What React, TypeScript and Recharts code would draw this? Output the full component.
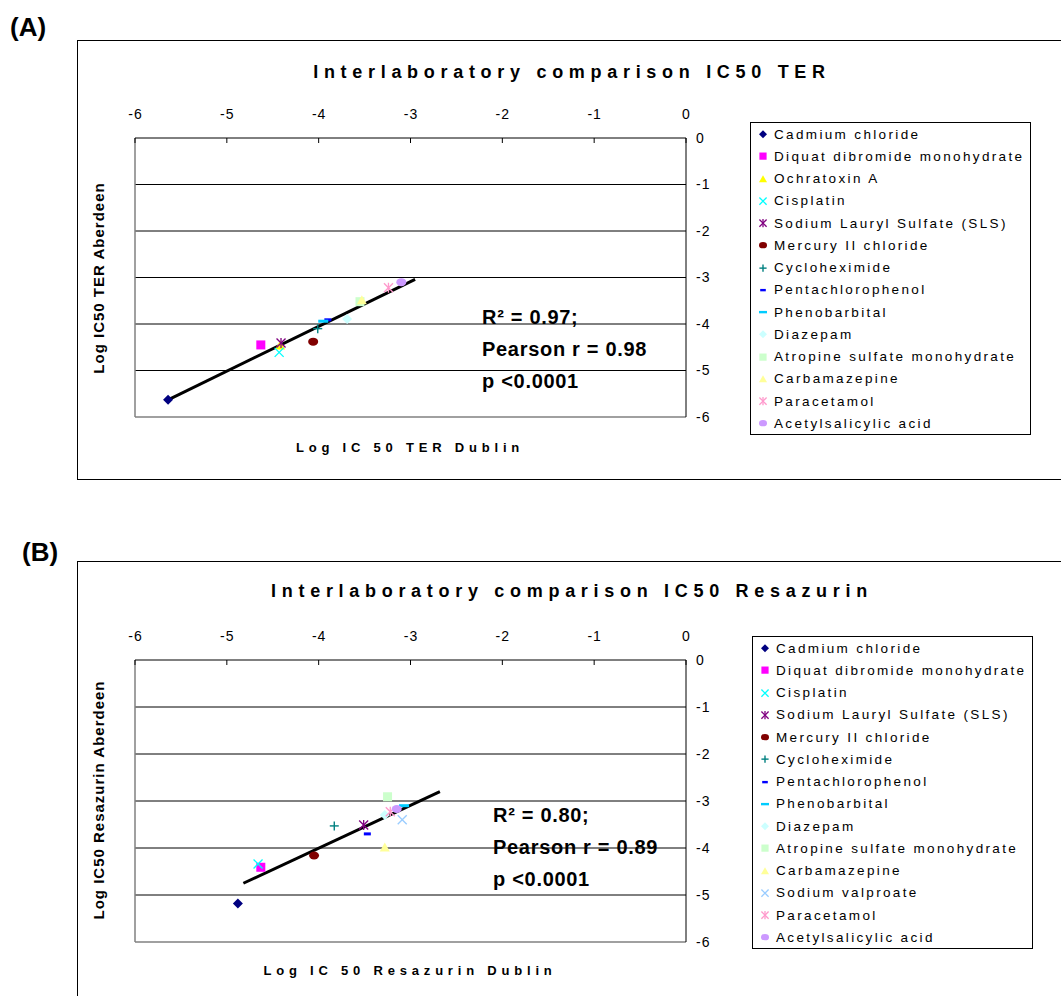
import React from 'react';
import { ScatterChart, Scatter, XAxis, YAxis, CartesianGrid, ReferenceLine } from 'recharts';

const FONT = '"Liberation Sans", Arial, Helvetica, sans-serif';

const axisTicks = [-6, -5, -4, -3, -2, -1, 0];

// Panel A — TER
const compoundsA = [
  'Cadmium chloride',
  'Diquat dibromide monohydrate',
  'Ochratoxin A',
  'Cisplatin',
  'Sodium Lauryl Sulfate (SLS)',
  'Mercury II chloride',
  'Cycloheximide',
  'Pentachlorophenol',
  'Phenobarbital',
  'Diazepam',
  'Atropine sulfate monohydrate',
  'Carbamazepine',
  'Paracetamol',
  'Acetylsalicylic acid',
];
const dublinA = [-5.64, -4.63, -4.42, -4.43, -4.41, -4.06, -4.01, -3.90, -3.95, -3.69, -3.55, -3.53, -3.24, -3.10];
const aberdeenA = [-5.63, -4.45, -4.46, -4.61, -4.41, -4.38, -4.10, -3.91, -3.94, -3.89, -3.52, -3.49, -3.22, -3.10];
const trendA = [{ x: -5.64, y: -5.63 }, { x: -2.95, y: -3.04 }];
const statsA = ['R² = 0.97;', 'Pearson r = 0.98', 'p <0.0001'];

// Panel B — Resazurin
const compoundsB = [
  'Cadmium chloride',
  'Diquat dibromide monohydrate',
  'Cisplatin',
  'Sodium Lauryl Sulfate (SLS)',
  'Mercury II chloride',
  'Cycloheximide',
  'Pentachlorophenol',
  'Phenobarbital',
  'Diazepam',
  'Atropine sulfate monohydrate',
  'Carbamazepine',
  'Sodium valproate',
  'Paracetamol',
  'Acetylsalicylic acid',
];
const dublinB = [-4.88, -4.63, -4.66, -3.51, -4.05, -3.83, -3.47, -3.07, -3.28, -3.25, -3.28, -3.09, -3.22, -3.15];
const aberdeenB = [-5.18, -4.41, -4.34, -3.51, -4.16, -3.53, -3.70, -3.10, -3.30, -2.91, -3.99, -3.40, -3.23, -3.17];
const trendB = [{ x: -4.82, y: -4.75 }, { x: -2.68, y: -2.80 }];
const statsB = ['R² = 0.80;', 'Pearson r = 0.89', 'p <0.0001'];

const MARK: Record<string, { shape: string; color: string }> = {
  'Cadmium chloride': { shape: 'diamond', color: '#000080' },
  'Diquat dibromide monohydrate': { shape: 'square', color: '#FF00FF' },
  'Ochratoxin A': { shape: 'triangle', color: '#FFFF00' },
  'Cisplatin': { shape: 'x', color: '#00FFFF' },
  'Sodium Lauryl Sulfate (SLS)': { shape: 'star', color: '#800080' },
  'Mercury II chloride': { shape: 'circle', color: '#800000' },
  'Cycloheximide': { shape: 'plus', color: '#008080' },
  'Pentachlorophenol': { shape: 'dash', color: '#0000FF' },
  'Phenobarbital': { shape: 'longdash', color: '#00CCFF' },
  'Diazepam': { shape: 'diamond', color: '#CCFFFF' },
  'Atropine sulfate monohydrate': { shape: 'square', color: '#CCFFCC' },
  'Carbamazepine': { shape: 'triangle', color: '#FFFF99' },
  'Sodium valproate': { shape: 'x', color: '#99CCFF' },
  'Paracetamol': { shape: 'star', color: '#FF99CC' },
  'Acetylsalicylic acid': { shape: 'circle', color: '#CC99FF' },
};

function Marker({ shape, color, cx, cy, s = 1 }: { shape: string; color: string; cx: number; cy: number; s?: number }) {
  switch (shape) {
    case 'diamond': {
      const r = 5 * s;
      return <polygon points={`${cx},${cy - r} ${cx + r},${cy} ${cx},${cy + r} ${cx - r},${cy}`} fill={color} />;
    }
    case 'square': {
      const h = 4.5 * s;
      return <rect x={cx - h} y={cy - h} width={2 * h} height={2 * h} fill={color} />;
    }
    case 'triangle': {
      const t = 5 * s;
      return <polygon points={`${cx},${cy - t} ${cx + t},${cy + t * 0.8} ${cx - t},${cy + t * 0.8}`} fill={color} />;
    }
    case 'x': {
      const r = 4.5 * s;
      return (
        <g stroke={color} strokeWidth={1.3}>
          <line x1={cx - r} y1={cy - r} x2={cx + r} y2={cy + r} />
          <line x1={cx - r} y1={cy + r} x2={cx + r} y2={cy - r} />
        </g>
      );
    }
    case 'star': {
      const r = 4.5 * s;
      return (
        <g stroke={color} strokeWidth={1.3}>
          <line x1={cx - r} y1={cy - r} x2={cx + r} y2={cy + r} />
          <line x1={cx - r} y1={cy + r} x2={cx + r} y2={cy - r} />
          <line x1={cx} y1={cy - r - 0.5} x2={cx} y2={cy + r + 0.5} />
        </g>
      );
    }
    case 'circle':
      return <ellipse cx={cx} cy={cy} rx={5 * s} ry={4 * s} fill={color} />;
    case 'plus': {
      const r = 4.5 * s;
      return (
        <g stroke={color} strokeWidth={1.4}>
          <line x1={cx - r} y1={cy} x2={cx + r} y2={cy} />
          <line x1={cx} y1={cy - r} x2={cx} y2={cy + r} />
        </g>
      );
    }
    case 'dash':
      return <rect x={cx - 3.5 * s} y={cy - 1.5 * s} width={7 * s} height={3 * s} fill={color} />;
    case 'longdash':
      return <rect x={cx - 5 * s} y={cy - 1.5 * s} width={10 * s} height={3 * s} fill={color} />;
    default:
      return null;
  }
}

const TopTick = (props: any) => {
  const { x, y, payload } = props;
  return (
    <g>
      <line x1={x} y1={y + 19} x2={x} y2={y + 24} stroke="#000" strokeWidth={1} />
      <text x={x + 0.5} y={y} textAnchor="middle" fontSize={14} letterSpacing={1} fontFamily={FONT} fill="#000">
        {payload.value}
      </text>
    </g>
  );
};

const RightTick = (props: any) => {
  const { x, y, payload } = props;
  return (
    <text x={x} y={y} dy="0.35em" textAnchor="start" fontSize={14} letterSpacing={1} fontFamily={FONT} fill="#000">
      {payload.value}
    </text>
  );
};

type PanelProps = {
  label: string;
  labelX: number;
  labelY: number;
  compounds: string[];
  dublin: number[];
  aberdeen: number[];
  trend: { x: number; y: number }[];
  stats: string[];
  statsX: number;
  statsY: number;
  title: string;
  titleY: number;
  xTitle: string;
  xTitleY: number;
  yTitle: string;
  yTitleY: number;
  boxTop: number;
  boxHeight: number;
  plotTop: number;
  plotBottom: number;
  legendLeft: number;
  legendTop: number;
};

function Panel(p: PanelProps) {
  const chartH = p.boxHeight;
  const xAxisH = 30;
  const yAxisW = 40;
  const plotLeft = 135;
  const plotRight = 686;
  const margin = {
    top: p.plotTop - p.boxTop - xAxisH,
    bottom: chartH - (p.plotBottom - p.boxTop),
    left: plotLeft,
    right: 1061 - plotRight - yAxisW,
  };
  const rowH = 22.25;

  return (
    <>
      <div
        style={{
          position: 'absolute',
          left: 77,
          top: p.boxTop,
          width: 1061,
          height: p.boxHeight,
          border: '1px solid #000',
          boxSizing: 'border-box',
        }}
      />
      <div
        style={{
          position: 'absolute',
          left: p.labelX,
          top: p.labelY,
          transform: 'translateY(-50%)',
          fontFamily: FONT,
          fontWeight: 'bold',
          fontSize: 26,
          color: '#000',
        }}
      >
        {p.label}
      </div>
      <div style={{ position: 'absolute', left: 0, top: p.boxTop, width: 1061, height: chartH }}>
        <ScatterChart width={1061} height={chartH} margin={margin}>
          <CartesianGrid vertical={false} stroke="#000" horizontalValues={[-5, -4, -3, -2, -1]} />
          <XAxis
            xAxisId={0}
            orientation="top"
            type="number"
            dataKey="x"
            domain={[-6, 0]}
            ticks={axisTicks}
            allowDataOverflow
            tick={<TopTick />}
            tickLine={false}
            tickSize={0}
            tickMargin={19}
            axisLine={{ stroke: '#000' }}
            height={xAxisH}
            interval={0}
          />
          <YAxis
            yAxisId={0}
            orientation="right"
            type="number"
            dataKey="y"
            domain={[-6, 0]}
            ticks={axisTicks}
            allowDataOverflow
            tickLine={false}
            tickSize={0}
            tickMargin={10}
            axisLine={{ stroke: '#000' }}
            width={yAxisW}
            interval={0}
            tick={<RightTick />}
          />
          <ReferenceLine x={-6} stroke="#808080" strokeWidth={1.5} />
          <ReferenceLine y={-6} stroke="#808080" strokeWidth={1.5} />
          {p.compounds.map((c, i) => (
            <Scatter
              key={c}
              name={c}
              data={[{ x: p.dublin[i], y: p.aberdeen[i] }]}
              isAnimationActive={false}
              shape={(sp: any) => <Marker shape={MARK[c].shape} color={MARK[c].color} cx={sp.cx} cy={sp.cy} />}
            />
          ))}
          <ReferenceLine segment={p.trend} stroke="#000" strokeWidth={3} ifOverflow="visible" />
        </ScatterChart>
      </div>
      <div
        style={{
          position: 'absolute',
          left: p.legendLeft,
          top: p.legendTop,
          width: 281,
          height: p.compounds.length * rowH + 1,
          border: '1px solid #000',
          boxSizing: 'border-box',
          background: '#fff',
          fontFamily: FONT,
        }}
      >
        {p.compounds.map((c, i) => (
          <div
            key={c}
            style={{
              position: 'absolute',
              left: 0,
              top: i * rowH,
              height: rowH,
              display: 'flex',
              alignItems: 'center',
              whiteSpace: 'nowrap',
            }}
          >
            <svg width={23} height={rowH} style={{ display: 'block' }}>
              <Marker shape={MARK[c].shape} color={MARK[c].color} cx={12} cy={rowH / 2} s={0.8} />
            </svg>
            <span style={{ fontSize: 13.5, letterSpacing: 2.35, color: '#000' }}>{c}</span>
          </div>
        ))}
      </div>
      <div
        style={{
          position: 'absolute',
          left: 0,
          width: 1144,
          top: p.titleY,
          transform: 'translateY(-50%)',
          textAlign: 'center',
          fontFamily: FONT,
          fontWeight: 'bold',
          fontSize: 18,
          letterSpacing: 5.7,
          whiteSpace: 'nowrap',
          color: '#000',
        }}
      >
        {p.title}
      </div>
      <div
        style={{
          position: 'absolute',
          left: 0,
          width: 820,
          top: p.xTitleY,
          transform: 'translateY(-50%)',
          textAlign: 'center',
          fontFamily: FONT,
          fontWeight: 'bold',
          fontSize: 13,
          letterSpacing: 4.8,
          whiteSpace: 'nowrap',
          color: '#000',
        }}
      >
        {p.xTitle}
      </div>
      <div
        style={{
          position: 'absolute',
          left: 98,
          top: p.yTitleY,
          transform: 'translate(-50%, -50%) rotate(-90deg)',
          fontFamily: FONT,
          fontWeight: 'bold',
          fontSize: 15,
          letterSpacing: 1,
          whiteSpace: 'nowrap',
          color: '#000',
        }}
      >
        {p.yTitle}
      </div>
      {p.stats.map((s, i) => (
        <div
          key={s}
          style={{
            position: 'absolute',
            left: p.statsX,
            top: p.statsY + i * 32,
            transform: 'translateY(-50%)',
            fontFamily: FONT,
            fontWeight: 'bold',
            fontSize: 20,
            letterSpacing: 0.7,
            whiteSpace: 'nowrap',
            color: '#000',
          }}
        >
          {s}
        </div>
      ))}
    </>
  );
}

export default function App() {
  return (
    <div
      style={{
        position: 'absolute',
        left: 0,
        top: 0,
        width: 1061,
        height: 996,
        overflow: 'hidden',
        background: '#fff',
      }}
    >
      <Panel
        label="(A)"
        labelX={10}
        labelY={27}
        compounds={compoundsA}
        dublin={dublinA}
        aberdeen={aberdeenA}
        trend={trendA}
        stats={statsA}
        statsX={482}
        statsY={317}
        title="Interlaboratory comparison IC50 TER"
        titleY={72}
        xTitle="Log IC 50 TER Dublin"
        xTitleY={447}
        yTitle="Log IC50 TER Aberdeen"
        yTitleY={278}
        boxTop={40}
        boxHeight={440}
        plotTop={138}
        plotBottom={417}
        legendLeft={750}
        legendTop={122}
      />
      <Panel
        label="(B)"
        labelX={22}
        labelY={552}
        compounds={compoundsB}
        dublin={dublinB}
        aberdeen={aberdeenB}
        trend={trendB}
        stats={statsB}
        statsX={493}
        statsY={815}
        title="Interlaboratory comparison IC50 Resazurin"
        titleY={591}
        xTitle="Log IC 50 Resazurin Dublin"
        xTitleY={970}
        yTitle="Log IC50 Resazurin Aberdeen"
        yTitleY={800}
        boxTop={561}
        boxHeight={445}
        plotTop={660}
        plotBottom={942}
        legendLeft={752}
        legendTop={636}
      />
    </div>
  );
}
